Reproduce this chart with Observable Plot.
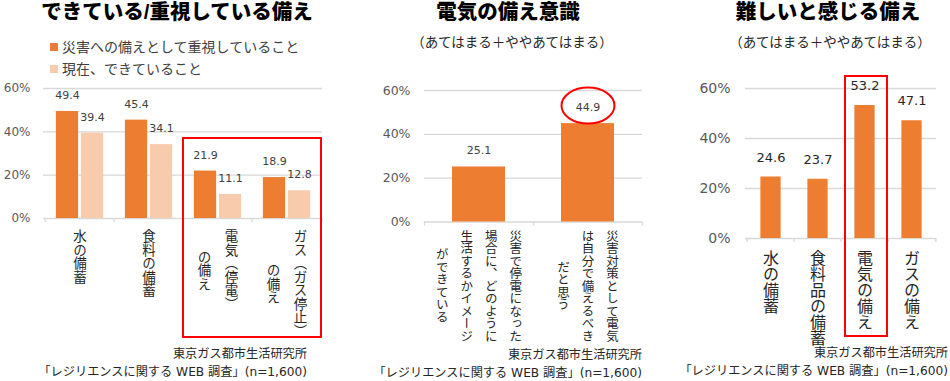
<!DOCTYPE html>
<html><head><meta charset="utf-8">
<script src="https://cdn.jsdelivr.net/npm/d3@7"></script>
<script src="https://cdn.jsdelivr.net/npm/@observablehq/plot@0.6"></script>
<style>
body{margin:0;background:#fff;}
#root{position:relative;width:950px;height:381px;overflow:hidden;background:#fff;font-family:"Noto Sans CJK JP",sans-serif;}
.abs{position:absolute;white-space:nowrap;line-height:1;}
.title{font-family:"Liberation Sans","Noto Sans CJK JP",sans-serif;font-size:20.5px;font-weight:900;color:#000;text-align:center;width:400px;top:1.9px;}
.sub{font-size:13.5px;color:#262626;text-align:center;width:400px;top:34.6px;}
.src{font-family:"DejaVu Sans","Noto Sans CJK JP",sans-serif;font-size:12.2px;color:#262626;text-align:right;width:340px;}
.leg{font-size:14px;color:#404040;}
.sw{position:absolute;width:8px;height:8px;}
</style></head><body><div id="root"></div>
<script>
// ---------- data ----------
const titles = ["できている/重視している備え", "電気の備え意識", "難しいと感じる備え"];
const subtitle = "（あてはまる＋ややあてはまる）";
const sourceLines = ["東京ガス都市生活研究所", "「レジリエンスに関する WEB 調査」(n=1,600)"];
const yTicks = [0, 20, 40, 60];

// panel 1
const series1 = ["災害への備えとして重視していること", "現在、できていること"];
const cats1 = ["水の備蓄", "食料の備蓄", "電気（停電）の備え", "ガス（ガス停止）の備え"];
const labels1 = [["水の備蓄"], ["食料の備蓄"], ["電気（停電）", "の備え"], ["ガス（ガス停止）", "の備え"]];
const important1 = [49.4, 45.4, 21.9, 18.9];
const doing1 = [39.4, 34.1, 11.1, 12.8];

// panel 2
const cats2 = ["災害で停電になった場合に、どのように生活するかイメージができている", "災害対策として電気は自分で備えるべきだと思う"];
const labels2 = [["災害で停電になった", "場合に、どのように", "生活するかイメージ", "ができている"], ["災害対策として電気", "は自分で備えるべき", "だと思う"]];
const values2 = [25.1, 44.9];

// panel 3
const cats3 = ["水の備蓄", "食料品の備蓄", "電気の備え", "ガスの備え"];
const labels3 = [["水の備蓄"], ["食料品の備蓄"], ["電気の備え"], ["ガスの備え"]];
const values3 = [24.6, 23.7, 53.2, 47.1];

// ---------- style ----------
const JP = "Noto Sans CJK JP";
const NUM = "DejaVu Sans";
const ORANGE = "#ED7D31", PEACH = "#F8CBAD", GRID = "#D9D9D9", RED = "#FF0000";

const root = document.getElementById("root");

function addDiv(cls, text, style) {
  const d = document.createElement("div");
  d.className = "abs " + cls;
  d.textContent = text;
  Object.assign(d.style, style);
  root.appendChild(d);
  return d;
}

function vlabelMarks(cats, labels, {fs, spacing, top}) {
  const marks = [];
  cats.forEach((cat, i) => {
    const cols = labels[i];
    const n = cols.length;
    const maxLen = d3.max(cols, c => [...c].length);
    cols.forEach((t, j) => {
      marks.push(Plot.text([{cat, t}], {
        x: "cat", text: "t", frameAnchor: "bottom", lineAnchor: "bottom",
        dx: ((n - 1) / 2 - j) * spacing, dy: top + maxLen * fs / 2,
        fontSize: fs, fontFamily: JP, fill: "#262626", textAnchor: "middle"
      }));
    });
  });
  return marks;
}

function edgeTicks(cats, bw, tick) {
  return [
    Plot.ruleX(cats, {x: d => d, dx: -bw / 2, y1: () => 0, y2: () => -tick, stroke: GRID, strokeWidth: 1.3}),
    Plot.ruleX(cats.slice(-1), {x: d => d, dx: bw / 2, y1: () => 0, y2: () => -tick, stroke: GRID, strokeWidth: 1.3})
  ];
}

function commonMarks(axisFs, pad) {
  return [
    Plot.ruleY(yTicks, {stroke: GRID, strokeWidth: 1.3}),
    Plot.axisY(yTicks, {tickSize: 0, tickPadding: pad, tickFormat: d => d + "%", fontSize: axisFs, fontFamily: NUM, label: null})
  ];
}

function verticalize(svg) {
  svg.querySelectorAll("text").forEach(t => {
    if (/[^\x00-\x7F]/.test(t.textContent)) {
      t.style.writingMode = "vertical-rl";
      t.removeAttribute("y");
    }
  });
}

function place(svg, left, width) {
  const w = document.createElement("div");
  w.className = "abs";
  Object.assign(w.style, {left: left + "px", top: "0px", width: width + "px", height: "381px"});
  w.appendChild(svg);
  root.appendChild(w);
  verticalize(svg);
}

// ---------- panel 1 ----------
{
  const W = 335, ml = 43, mr = 13, mt = 88, mb = 163;
  const bw = (W - ml - mr) / cats1.length;
  const pxPerUnit = (381 - mt - mb) / 60;
  const rows = cats1.map((cat, i) => ({cat, a: important1[i], b: doing1[i]}));
  const box = {x1: cats1[2], x2: cats1[3], top: 80 / pxPerUnit, bottom: -119 / pxPerUnit};
  const bar = 23, gap = 2;
  const off = (bar + gap) / 2;
  const ins = (bw - bar) / 2;
  const svg = Plot.plot({
    width: W, height: 381, marginLeft: ml, marginRight: mr, marginTop: mt, marginBottom: mb,
    style: {color: "#595959", background: "transparent", overflow: "visible"},
    x: {type: "band", domain: cats1, padding: 0, axis: null},
    y: {domain: [0, 60]},
    marks: [
      ...commonMarks(12, 13),
      ...edgeTicks(cats1, bw, 4 / pxPerUnit),
      Plot.barY(rows, {x: "cat", y: "a", fill: ORANGE, insetLeft: ins, insetRight: ins, dx: -off}),
      Plot.barY(rows, {x: "cat", y: "b", fill: PEACH, insetLeft: ins, insetRight: ins, dx: off}),
      Plot.text(rows, {x: "cat", y: "a", text: d => d.a.toFixed(1), dx: -off, dy: -16, fontSize: 11, fontFamily: NUM, fill: "#404040"}),
      Plot.text(rows, {x: "cat", y: "b", text: d => d.b.toFixed(1), dx: off, dy: -16, fontSize: 11, fontFamily: NUM, fill: "#404040"}),
      ...vlabelMarks(cats1, labels1, {fs: 13.5, spacing: 27, top: 11}),
      Plot.rect([box], {x1: "x1", x2: "x2", y1: "top", y2: "bottom", fill: "none", stroke: RED, strokeWidth: 2})
    ]
  });
  place(svg, 0, W);
}

// ---------- panel 2 ----------
{
  const L = 335, W = 315, ml = 89, mr = 8, mt = 90, mb = 159.5;
  const bw = (W - ml - mr) / cats2.length;
  const pxPerUnit = (381 - mt - mb) / 60;
  const rows = cats2.map((cat, i) => ({cat, v: values2[i]}));
  const ins = (bw - 53) / 2;
  const rx = 26.5, ry = 18, k = 0.5523;
  const ellipse = {draw(ctx) {
    ctx.moveTo(rx, 0);
    ctx.bezierCurveTo(rx, ry * k, rx * k, ry, 0, ry);
    ctx.bezierCurveTo(-rx * k, ry, -rx, ry * k, -rx, 0);
    ctx.bezierCurveTo(-rx, -ry * k, -rx * k, -ry, 0, -ry);
    ctx.bezierCurveTo(rx * k, -ry, rx, -ry * k, rx, 0);
    ctx.closePath();
  }};
  const svg = Plot.plot({
    width: W, height: 381, marginLeft: ml, marginRight: mr, marginTop: mt, marginBottom: mb,
    style: {color: "#595959", background: "transparent", overflow: "visible"},
    x: {type: "band", domain: cats2, padding: 0, axis: null},
    y: {domain: [0, 60]},
    marks: [
      ...commonMarks(12.5, 14),
      ...edgeTicks(cats2, bw, 4 / pxPerUnit),
      Plot.barY(rows, {x: "cat", y: "v", fill: ORANGE, insetLeft: ins, insetRight: ins}),
      Plot.text(rows, {x: "cat", y: "v", text: d => d.v.toFixed(1), dy: -16.5, fontSize: 11, fontFamily: NUM, fill: "#404040"}),
      Plot.dot(rows.slice(1), {x: "cat", y: "v", dy: -18, symbol: ellipse, fill: "none", stroke: RED, strokeWidth: 2}),
      ...vlabelMarks(cats2, labels2, {fs: 12.5, spacing: 24.5, top: 7.5})
    ]
  });
  place(svg, L, W);
}

// ---------- panel 3 ----------
{
  const L = 650, W = 300, ml = 95, mr = 14, mt = 88, mb = 143;
  const bw = (W - ml - mr) / cats3.length;
  const pxPerUnit = (381 - mt - mb) / 60;
  const rows = cats3.map((cat, i) => ({cat, v: values3[i]}));
  const ins = (bw - 21) / 2;
  const box = {x1: cats3[2], x2: cats3[2], top: 162 / pxPerUnit, bottom: -98 / pxPerUnit};
  const svg = Plot.plot({
    width: W, height: 381, marginLeft: ml, marginRight: mr, marginTop: mt, marginBottom: mb,
    style: {color: "#595959", background: "transparent", overflow: "visible"},
    x: {type: "band", domain: cats3, padding: 0, axis: null},
    y: {domain: [0, 60]},
    marks: [
      ...commonMarks(14, 15),
      ...edgeTicks(cats3, bw, 4 / pxPerUnit),
      Plot.barY(rows, {x: "cat", y: "v", fill: ORANGE, insetLeft: ins, insetRight: ins}),
      Plot.text(rows, {x: "cat", y: "v", text: d => d.v.toFixed(1), dy: -19.5, fontSize: 13, fontFamily: NUM, fill: "#262626"}),
      ...vlabelMarks(cats3, labels3, {fs: 16, spacing: 20, top: 11}),
      Plot.rect([box], {x1: "x1", x2: "x2", y1: "top", y2: "bottom", insetLeft: 4, insetRight: 1, fill: "none", stroke: RED, strokeWidth: 2})
    ]
  });
  place(svg, L, W);
}

// ---------- html text ----------
const titleCenters = [177, 508, 828];
titles.forEach((t, i) => addDiv("title", t, {left: (titleCenters[i] - 200) + "px"}));
addDiv("sub", subtitle, {left: (512 - 200) + "px"});
addDiv("sub", subtitle, {left: (830 - 200) + "px"});

// legend (panel 1)
[ORANGE, PEACH].forEach((c, i) => {
  const s = document.createElement("div");
  s.className = "sw";
  Object.assign(s.style, {left: "50px", top: (43 + 22 * i) + "px", background: c});
  root.appendChild(s);
  addDiv("leg", series1[i], {left: "62px", top: (39.3 + 22 * i) + "px"});
});

// sources
const srcRight = [307, 642, 948];
const srcTop = [[347.8, 366.3], [349.3, 367.3], [347.3, 365.3]];
srcRight.forEach((r, i) => {
  sourceLines.forEach((t, j) => addDiv("src", t, {left: (r - 340) + "px", top: srcTop[i][j] + "px"}));
});
</script></body></html>
